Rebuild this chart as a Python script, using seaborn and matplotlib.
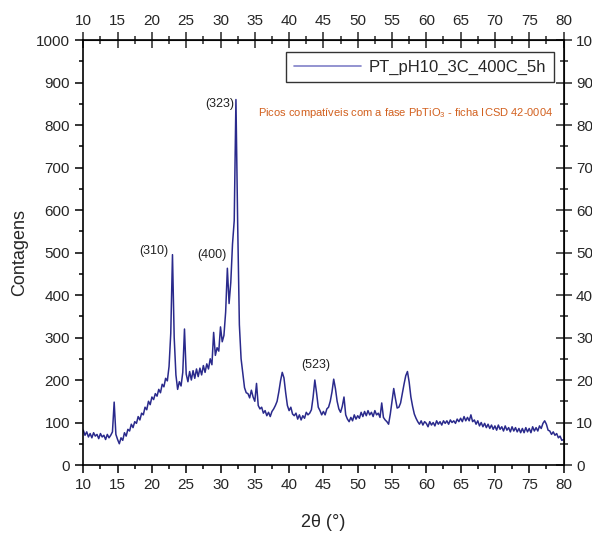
import numpy as np
import pandas as pd
import seaborn as sns
import matplotlib.pyplot as plt
from matplotlib.ticker import MultipleLocator

# 2theta scan, 0.25 deg step, 10..80
two_theta = np.arange(10, 80.001, 0.25)
counts = [
    82, 70, 78, 66, 74, 64, 76, 68, 72, 62, 74, 66, 70, 60, 72, 64,
    70, 78, 148, 72, 60, 50, 64, 58, 76, 68, 84, 80, 96, 88, 102, 98,
    114, 106, 122, 118, 136, 130, 150, 142, 160, 154, 168, 162, 178, 170, 190, 184,
    204, 198, 232, 310, 495, 300, 212, 178, 196, 186, 218, 320, 214, 196, 220, 200,
    222, 204, 226, 208, 228, 212, 234, 218, 238, 226, 250, 236, 312, 258, 276, 268,
    325, 290, 305, 360, 463, 380, 430, 520, 575, 860, 570, 330, 250, 215, 182, 170,
    168, 158, 176, 160, 150, 192, 140, 132, 136, 122, 128, 116, 124, 114, 126, 132,
    140, 150, 172, 198, 218, 205, 170, 140, 128, 136, 120, 116, 122, 108, 118, 106,
    116, 110, 124, 118, 122, 130, 160, 200, 170, 136, 128, 118, 126, 118, 132, 136,
    150, 172, 202, 180, 150, 132, 124, 138, 160, 118, 108, 102, 112, 104, 118, 108,
    116, 110, 124, 114, 126, 116, 128, 118, 124, 114, 128, 118, 122, 112, 146, 112,
    106, 102, 96, 120, 150, 180, 156, 134, 136, 146, 168, 190, 210, 220, 195, 160,
    138, 120, 110, 102, 96, 104, 94, 102, 98, 90, 102, 94, 100, 92, 104, 96,
    102, 94, 104, 98, 104, 96, 106, 100, 104, 98, 108, 102, 110, 102, 114, 104,
    112, 104, 118, 102, 106, 96, 104, 92, 100, 90, 98, 88, 96, 86, 94, 84,
    92, 82, 94, 84, 90, 80, 92, 82, 88, 78, 90, 80, 88, 78, 86, 76,
    86, 76, 88, 78, 86, 76, 90, 80, 88, 80, 92, 86, 98, 104, 96, 82,
    80, 72, 78, 70, 74, 64, 68, 58, 60,
]

peak_labels = ["(310)", "(400)", "(323)", "(523)"]
peak_x = [20.3, 28.8, 29.9, 43.9]
peak_y = [503, 494, 849, 235]

series_name = "PT_pH10_3C_400C_5h"
note = "Picos compatíveis com a fase PbTiO$_3$ - ficha ICSD 42-0004"

df = pd.DataFrame({"2theta": two_theta, "Contagens": counts, "amostra": series_name})

sns.set_style("ticks")
plt.rcParams["font.family"] = ["Liberation Sans", "DejaVu Sans"]
plt.rcParams["mathtext.fontset"] = "custom"
plt.rcParams["mathtext.rm"] = "Liberation Sans"
plt.rcParams["mathtext.it"] = "Liberation Sans"

fig = plt.figure(figsize=(5.92, 5.34), dpi=100)
ax = fig.add_axes([0.1407, 0.1292, 0.8112, 0.7958])

sns.lineplot(data=df, x="2theta", y="Contagens", hue="amostra",
             palette=["#2a2a8c"], linewidth=1.1, ax=ax)

ax.set_xlim(10, 80)
ax.set_ylim(0, 1000)
ax.xaxis.set_major_locator(MultipleLocator(5))
ax.xaxis.set_minor_locator(MultipleLocator(2.5))
ax.yaxis.set_major_locator(MultipleLocator(100))
ax.yaxis.set_minor_locator(MultipleLocator(50))
ax.tick_params(which="major", direction="out", length=6, width=1.1, labelsize=11, color="black")
ax.tick_params(which="minor", direction="out", length=3, width=1.1, color="black")
for s in ax.spines.values():
    s.set_linewidth(1.2)
    s.set_color("black")

# top and right axes
top = ax.secondary_xaxis("top")
top.xaxis.set_major_locator(MultipleLocator(5))
top.xaxis.set_minor_locator(MultipleLocator(2.5))
top.tick_params(which="major", direction="inout", length=11, width=1.1, labelsize=11)
top.tick_params(which="minor", direction="inout", length=6, width=1.1)
right = ax.secondary_yaxis("right")
right.yaxis.set_major_locator(MultipleLocator(100))
right.yaxis.set_minor_locator(MultipleLocator(50))
right.tick_params(which="major", direction="inout", length=11, width=1.1, labelsize=11)
right.tick_params(which="minor", direction="inout", length=6, width=1.1)

ax.set_xlabel("2θ (°)", fontsize=13, labelpad=16)
ax.set_ylabel("Contagens", fontsize=13, labelpad=6)

for lab, px, py in zip(peak_labels, peak_x, peak_y):
    ax.text(px, py, lab, fontsize=9, ha="center", va="center", color="#222222")

ax.text(35.5, 828, note, fontsize=8.0, color="#d2601e", ha="left", va="center")

leg = ax.legend(loc="upper right", bbox_to_anchor=(0.98, 0.972), frameon=True,
                fancybox=False, edgecolor="black", fontsize=12, handlelength=4.0,
                handletextpad=0.5, borderpad=0.45, borderaxespad=0)
leg.get_frame().set_linewidth(1.0)
for t in leg.get_texts():
    t.set_text(series_name)
for h in leg.get_lines():
    h.set_color("#8080c8")
    h.set_linewidth(1.2)

fig.savefig("out.png", dpi=100)
